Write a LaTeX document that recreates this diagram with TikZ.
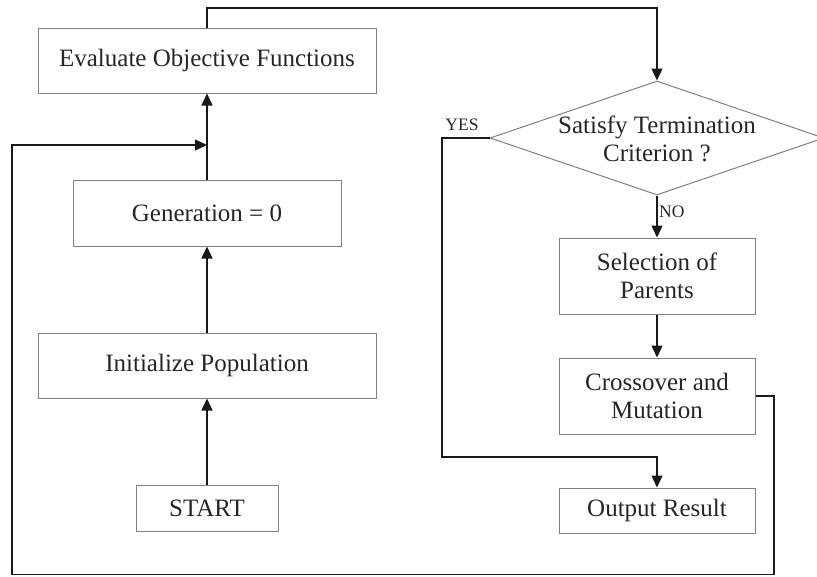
\documentclass[tikz,border=0pt]{standalone}
\usepackage{fontspec}
\setmainfont{Liberation Serif}
\usetikzlibrary{shapes.geometric,arrows.meta}
\begin{document}
\begin{tikzpicture}[x=1pt,y=-1pt,
  box/.style={draw=black!50, line width=1pt, rectangle, inner sep=0pt, align=center,
    font=\fontsize{25}{28}\selectfont, text=black!85},
  conn/.style={line width=1.4pt, draw=black!90},
  arr/.style={conn, -{Triangle[length=12pt,width=11pt]}},
  lbl/.style={font=\fontsize{17.5}{19}\selectfont, text=black!85, inner sep=0pt}]
\useasboundingbox (0,0) rectangle (817,576);
\node[box, minimum width=338pt, minimum height=65pt] (eval) at (207,60.5) {Evaluate Objective Functions};
\node[box, minimum width=268pt, minimum height=66pt] (gen) at (207,213) {Generation = 0};
\node[box, minimum width=338pt, minimum height=65pt] (init) at (207,365.5) {Initialize Population};
\node[box, minimum width=142pt, minimum height=46pt] (start) at (207,508) {START};
\node[diamond, draw=black!50, line width=1pt, minimum width=334pt, minimum height=114pt, inner sep=0pt] (dia) at (657,138) {};
\node[box, draw=none] (diatext) at (657,138.5) {Satisfy Termination\\Criterion ?};
\node[box, minimum width=196pt, minimum height=76pt] (sel) at (657,276) {Selection of\\Parents};
\node[box, minimum width=196pt, minimum height=76pt] (cross) at (657,396) {Crossover and\\Mutation};
\node[box, minimum width=196pt, minimum height=45pt] (out) at (657,510.5) {Output Result};
\coordinate (j) at (207,145);
\coordinate (ne) at (207,8);
\coordinate (nw) at (657,8);
\coordinate (yl) at (442,138);
\coordinate (yb) at (442,457);
\coordinate (ob) at (657,457);
\coordinate (cr) at (774,396);
\coordinate (br) at (774,574.5);
\coordinate (bl) at (12,574.5);
\coordinate (lt) at (12,145);
\draw[arr] (start.north) -- (init.south);
\draw[arr] (init.north) -- (gen.south);
\draw[arr] (gen.north) -- (eval.south);
\draw[arr] (cross.east) -- (cr) -- (br) -- (bl) -- (lt) -- (j);
\draw[arr] (eval.north) -- (ne) -- (nw) -- (dia.north);
\draw[arr] (dia.south) -- (sel.north);
\draw[arr] (sel.south) -- (cross.north);
\draw[arr] (dia.west) -- (yl) -- (yb) -- (ob) -- (out.north);
\node[lbl, anchor=west] (no) at (659,212) {NO};
\node[lbl] (yes) at (462,125) {YES};
\end{tikzpicture}
\end{document}
